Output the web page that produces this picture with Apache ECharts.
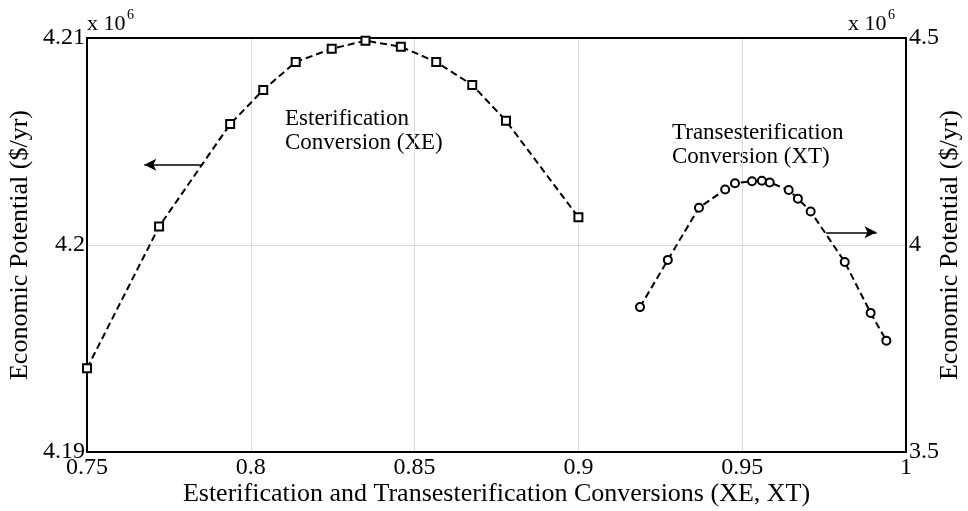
<!DOCTYPE html>
<html><head><meta charset="utf-8">
<script src="https://cdn.jsdelivr.net/npm/echarts@6/dist/echarts.min.js"></script>
<style>html,body{margin:0;padding:0;background:#fff}#c{width:968px;height:511px}</style>
</head><body><div id="c"></div>
<script>
// Esterification conversion (XE) vs economic potential (x 10^6 $/yr, left axis)
const xeConv = [0.75, 0.772, 0.7937, 0.8038, 0.8137, 0.8247, 0.835, 0.8458, 0.8566, 0.8676, 0.8779, 0.90];
const xeEP   = [4.19404, 4.20089, 4.20584, 4.20749, 4.20884, 4.20948, 4.20987, 4.20958, 4.20884, 4.20773, 4.20600, 4.20134];
// Transesterification conversion (XT) vs economic potential (x 10^6 $/yr, right axis)
const xtConv = [0.9188, 0.9273, 0.9368, 0.9448, 0.9478, 0.953, 0.956, 0.9584, 0.9642, 0.967, 0.9709, 0.9813, 0.9892, 0.994];
const xtEP   = [3.850, 3.964, 4.090, 4.134, 4.149, 4.154, 4.155, 4.151, 4.133, 4.112, 4.081, 3.959, 3.836, 3.769];
// axis ticks
const xTicks = [0.75, 0.8, 0.85, 0.9, 0.95, 1];
const yLeftTicks = [4.19, 4.2, 4.21];
const yRightTicks = [3.5, 4, 4.5];
// arrow annotations (data coordinates)
const leftArrow = [[0.785, 4.20388], [0.7675, 4.20388]];
const rightArrow = [[0.9756, 4.0306], [0.991, 4.0306]];

const FONT = "'Liberation Serif', 'Times New Roman', serif";
const fmt = v => String(Number(v.toFixed(3)));
const step = a => Number((a[1] - a[0]).toFixed(4));

const chart = echarts.init(document.getElementById('c'), null, {renderer: 'canvas'});
const axisLine = {show: true, onZero: false, lineStyle: {color: '#000', width: 2}};
const lbl = {fontFamily: FONT, fontSize: 24, color: '#000'};

chart.setOption({
  animation: false,
  backgroundColor: '#fff',
  grid: {left: 87, right: 62, top: 38, bottom: 59, containLabel: false, outerBoundsMode: 'none'},
  xAxis: [{
    type: 'value', min: xTicks[0], max: xTicks[xTicks.length - 1], interval: step(xTicks),
    axisLine: axisLine, axisTick: {show: false},
    splitLine: {show: true, showMinLine: false, showMaxLine: false, lineStyle: {color: '#dadada', width: 1}},
    axisLabel: Object.assign({margin: 4, formatter: fmt}, lbl),
    name: 'Esterification and Transesterification Conversions (XE, XT)',
    nameLocation: 'middle', nameGap: 29, nameMoveOverlap: false,
    nameTextStyle: {fontFamily: FONT, fontSize: 26, color: '#000'}
  }, {
    type: 'value', position: 'top', min: xTicks[0], max: xTicks[xTicks.length - 1],
    axisLine: axisLine, axisTick: {show: false}, axisLabel: {show: false}, splitLine: {show: false}
  }],
  yAxis: [{
    type: 'value', position: 'left', min: yLeftTicks[0], max: yLeftTicks[yLeftTicks.length - 1], interval: step(yLeftTicks),
    axisLine: axisLine, axisTick: {show: false},
    splitLine: {show: true, showMinLine: false, showMaxLine: false, lineStyle: {color: '#dadada', width: 1}},
    axisLabel: Object.assign({margin: 2, formatter: fmt}, lbl),
    name: 'Economic Potential ($/yr)', nameLocation: 'middle', nameGap: 54, nameMoveOverlap: false,
    nameTextStyle: {fontFamily: FONT, fontSize: 26, color: '#000'}
  }, {
    type: 'value', position: 'right', min: yRightTicks[0], max: yRightTicks[yRightTicks.length - 1], interval: step(yRightTicks),
    axisLine: axisLine, axisTick: {show: false}, splitLine: {show: false},
    axisLabel: Object.assign({margin: 3, formatter: fmt}, lbl),
    name: 'Economic Potential ($/yr)', nameLocation: 'middle', nameGap: 31, nameMoveOverlap: false,
    nameTextStyle: {fontFamily: FONT, fontSize: 26, color: '#000'}
  }],
  series: [{
    type: 'line', xAxisIndex: 0, yAxisIndex: 0,
    data: xeConv.map((x, i) => [x, xeEP[i]]),
    symbol: 'rect', symbolSize: 8, showAllSymbol: true,
    lineStyle: {color: '#000', width: 2, type: [7, 4]},
    itemStyle: {color: '#fff', borderColor: '#000', borderWidth: 2},
    markLine: {
      silent: true, symbol: ['none', 'arrow'], symbolSize: [9, 12],
      lineStyle: {color: '#000', width: 1.5, type: 'solid'}, label: {show: false},
      data: [[{coord: leftArrow[0]}, {coord: leftArrow[1]}]]
    },
    z: 3
  }, {
    type: 'line', xAxisIndex: 0, yAxisIndex: 1,
    data: xtConv.map((x, i) => [x, xtEP[i]]),
    symbol: 'circle', symbolSize: 8, showAllSymbol: true,
    lineStyle: {color: '#000', width: 2, type: [7, 4]},
    itemStyle: {color: '#fff', borderColor: '#000', borderWidth: 2},
    markLine: {
      silent: true, symbol: ['none', 'arrow'], symbolSize: [9, 12],
      lineStyle: {color: '#000', width: 1.5, type: 'solid'}, label: {show: false},
      data: [[{coord: rightArrow[0]}, {coord: rightArrow[1]}]]
    },
    z: 3
  }],
  graphic: [
    {type: 'text', left: 87, top: 13, style: {text: 'x 10', font: '22px ' + FONT, fill: '#000'}},
    {type: 'text', left: 127, top: 8, style: {text: '6', font: '14px ' + FONT, fill: '#000'}},
    {type: 'text', left: 848, top: 13, style: {text: 'x 10', font: '22px ' + FONT, fill: '#000'}},
    {type: 'text', left: 888, top: 8, style: {text: '6', font: '14px ' + FONT, fill: '#000'}},
    {type: 'text', left: 285, top: 107, style: {text: 'Esterification\nConversion (XE)', font: '23px ' + FONT, fill: '#000', lineHeight: 24}},
    {type: 'text', left: 672, top: 121, style: {text: 'Transesterification\nConversion (XT)', font: '23px ' + FONT, fill: '#000', lineHeight: 24}}
  ]
});
</script>
</body></html>
